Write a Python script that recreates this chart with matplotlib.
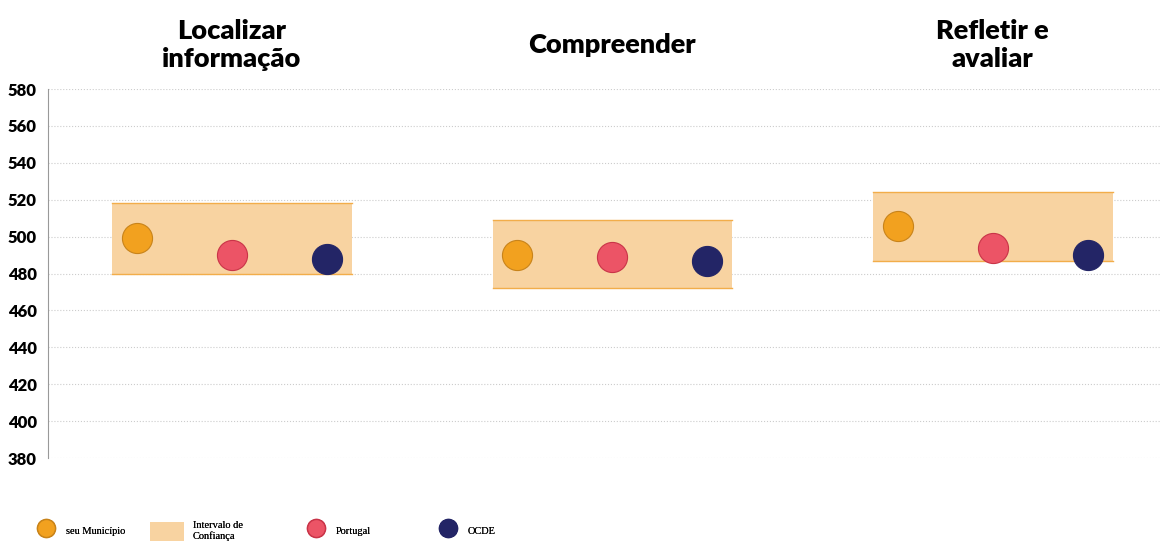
import matplotlib.pyplot as plt
from matplotlib.lines import Line2D
from matplotlib.patches import Patch

# data
domains = ['Localizar\ninformação', 'Compreender', 'Refletir e\navaliar']
municipio = [499, 490, 506]
portugal = [490, 489, 494]
ocde = [488, 487, 490]
ic_low = [480, 472, 487]
ic_high = [518, 509, 524]
yticks = [380, 400, 420, 440, 460, 480, 500, 520, 540, 560, 580]

c_mun = '#f2a11f'
c_pt = '#ec5466'
c_ocde = '#232566'
c_ic = '#f8d3a1'
c_ic_edge = '#f2ad4a'

fig = plt.figure(figsize=(11.64, 5.43), dpi=100)
ax = fig.add_axes([0.0412, 0.1565, 0.9554, 0.6795])

off = 0.25
hw = 0.315
for i in range(len(domains)):
    ax.fill_between([i - hw, i + hw], ic_low[i], ic_high[i], color=c_ic, lw=0, zorder=1)
    ax.plot([i - hw, i + hw], [ic_high[i]] * 2, color=c_ic_edge, lw=1, zorder=2)
    ax.plot([i - hw, i + hw], [ic_low[i]] * 2, color=c_ic_edge, lw=1, zorder=2)

xs = range(len(domains))
ax.scatter([x - off for x in xs], municipio, s=470, color=c_mun, edgecolor='#c8831a', lw=0.8, zorder=3)
ax.scatter(list(xs), portugal, s=470, color=c_pt, edgecolor='#c93448', lw=0.8, zorder=3)
ax.scatter([x + off for x in xs], ocde, s=470, color=c_ocde, edgecolor=c_ocde, lw=0.8, zorder=3)

ax.set_xlim(-0.484, 2.44)
ax.set_ylim(380, 580)
ax.set_yticks(yticks)
ax.set_xticks([])
ax.tick_params(axis='y', length=0, pad=8)
for lab in ax.get_yticklabels():
    lab.set_fontfamily('Lato')
    lab.set_fontweight('heavy')
    lab.set_fontsize(12)
ax.grid(axis='y', color='#cccccc', ls=':', lw=0.8)
ax.set_axisbelow(True)
for s in ['top', 'right', 'bottom']:
    ax.spines[s].set_visible(False)
ax.spines['left'].set_color('#999999')
ax.spines['left'].set_linewidth(0.8)

for i, d in enumerate(domains):
    ax.text(i, 604, d, ha='center', va='center', fontsize=19.5, fontweight='heavy',
            family='Lato', linespacing=1.2, clip_on=False)

# legend, one entry at a time so the gaps follow the reference
entries = [
    (Line2D([], [], marker='o', ls='', markersize=13, color=c_mun, markeredgecolor='#c8831a'),
     'seu Município', 0.0296, 2.2, 0.8),
    (Patch(facecolor=c_ic, edgecolor='none'), 'Intervalo de\nConfiança', 0.1289, 3.3, 0.8),
    (Line2D([], [], marker='o', ls='', markersize=13, color=c_pt, markeredgecolor='#c93448'),
     'Portugal', 0.2616, 2.2, 0.8),
    (Line2D([], [], marker='o', ls='', markersize=13, color=c_ocde), 'OCDE', 0.375, 2.2, 0.8),
]
for h, lab, x, hl, tp in entries:
    leg = fig.legend([h], [lab], loc='center left', bbox_to_anchor=(x, 0.022),
                     frameon=False, prop={'family': 'Liberation Serif', 'size': 7.5},
                     handlelength=hl, handleheight=2.4, handletextpad=tp,
                     borderaxespad=0, borderpad=0, labelspacing=0)
    fig.add_artist(leg)

plt.savefig('out.png', dpi=100)
